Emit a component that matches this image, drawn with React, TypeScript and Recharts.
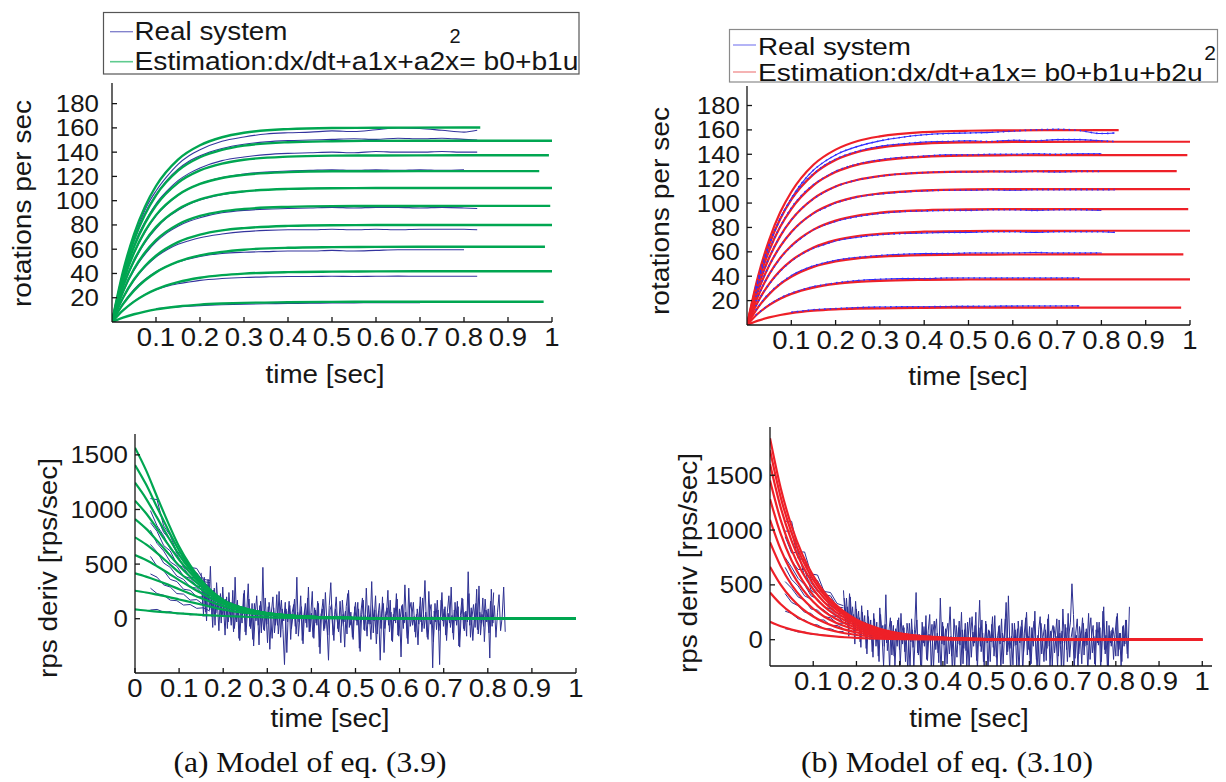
import React from 'react';
import { LineChart, Line, XAxis, YAxis } from 'recharts';

// ---------- shared axes ----------
const timeTicks = [0.1, 0.2, 0.3, 0.4, 0.5, 0.6, 0.7, 0.8, 0.9, 1];
const timeTicksZero = [0, 0.1, 0.2, 0.3, 0.4, 0.5, 0.6, 0.7, 0.8, 0.9, 1];
const rpsTicks = [20, 40, 60, 80, 100, 120, 140, 160, 180];
const derivTicks = [0, 500, 1000, 1500];

// ---------- top left: rps, model (3.9) ----------
const fitT = [0, 0.025, 0.05, 0.075, 0.1, 0.15, 0.2, 0.25, 0.3, 0.4, 0.5, 0.6, 0.8, 1];
const tlFitEnd = [0.837, 1, 0.993, 0.971, 1, 0.996, 1, 0.984, 1, 0.981];
const tlFit = [
  [0, 41.5, 72.3, 95.1, 112.1, 133.9, 145.7, 152.3, 156.0, 159.0, 159.9, 160.1, 160.3, 160.3],
  [0, 38.7, 67.4, 88.6, 104.4, 124.7, 135.8, 141.9, 145.4, 148.2, 149.0, 149.3, 149.4, 149.4],
  [0, 35.6, 62.0, 81.5, 96.0, 114.7, 124.9, 130.5, 133.7, 136.3, 137.1, 137.3, 137.4, 137.4],
  [0, 33.0, 57.1, 74.9, 88.1, 104.7, 113.8, 118.7, 121.3, 123.5, 124.2, 124.3, 124.4, 124.4],
  [0, 29.3, 50.7, 66.5, 78.2, 93.0, 101.1, 105.4, 107.7, 109.7, 110.3, 110.4, 110.5, 110.5],
  [0, 25.2, 43.7, 57.3, 67.5, 80.4, 87.4, 91.2, 93.2, 94.9, 95.5, 95.6, 95.7, 95.7],
  [0, 20.0, 35.0, 46.2, 54.6, 65.8, 72.0, 75.5, 77.4, 79.2, 79.8, 79.9, 80, 80],
  [0, 14.7, 25.9, 34.4, 40.9, 49.7, 54.9, 57.8, 59.6, 61.2, 61.7, 61.9, 62, 62],
  [0, 9.5, 16.8, 22.5, 26.9, 32.9, 36.5, 38.6, 39.9, 41.1, 41.5, 41.7, 41.8, 41.8],
  [0, 3.6, 6.4, 8.6, 10.4, 12.8, 14.3, 15.2, 15.8, 16.3, 16.6, 16.65, 16.7, 16.7],
];

const realT = [0.02, 0.04, 0.06, 0.08, 0.1, 0.125, 0.15, 0.175, 0.2, 0.25, 0.3, 0.35, 0.4, 0.45, 0.5, 0.55, 0.6, 0.65, 0.7, 0.75, 0.8, 0.83];
const tlReal = [
  [33, 58, 79, 96, 108, 120, 130, 137, 142, 149, 152.5, 155, 156, 156.5, 157.5, 157, 158.5, 160, 159.5, 158, 156.5, 158],
  [32, 57, 77, 93, 105, 117, 126, 132.5, 137, 143, 146.5, 148.5, 149.5, 150, 150.5, 151, 150.5, 151.5, 151, 151.5, 150.5, 150],
  [30, 53, 72, 86, 97.5, 108, 116.5, 122.5, 127, 133, 136, 138, 139, 139.5, 140, 139.5, 140.5, 140, 140, 140.5, 140, 140],
  [27, 48, 64, 77, 87.5, 97, 104.5, 110, 114, 119, 122, 123.5, 124.5, 125, 125.5, 125, 125.5, 125, 125.5, 125, 125.5, null],
  [23.5, 42, 56.5, 68, 77, 86, 92, 97, 100.5, 105, 107.5, 109, 109.5, 110, 110.5, 110, 110.5, 110.5, 110, 110.5, 110.5, 110.5],
  [20, 36, 48.5, 58, 66, 73.5, 79, 83, 86, 90, 92, 93, 93.5, 94, 94.5, 94, 94.5, 94.5, 94, 94.5, 94, 93.5],
  [16, 29, 39, 47, 53.5, 59.5, 64, 67, 69.5, 72.5, 74.5, 75.5, 76, 76, 76.5, 76, 76.5, 76, 76.5, 76.5, 76.5, 76],
  [12.5, 22.5, 30.5, 36.5, 41.5, 46, 49.5, 52, 54, 56.5, 57.5, 58, 58.5, 58.5, 59, 58.5, 59, 59.5, 59.5, 59.5, 59.5, null],
  [null, 14.5, 19.5, 23.5, 26.5, 29.5, 31.5, 33, 34.3, 35.8, 36.7, 37.2, 37.5, 37.5, 37.7, 37.5, 37.7, 37.8, 37.7, 37.7, 37.7, 37.7],
  [null, null, null, null, 11, 11.8, 12.5, 13, 13.5, 14.2, 14.7, 15, 15.3, 15.5, 15.7, 15.8, 15.9, 15.9, 15.9, null, null, null],
];

// ---------- top right: rps, model (3.10) ----------
const trFitEnd = [0.839, 1, 0.994, 0.97, 1, 0.996, 1, 0.985, 1, 0.98];
const trFit = [
  [0, 40.0, 69.8, 92.4, 109.1, 131.4, 143.8, 150.9, 154.7, 158.2, 159.3, 159.6, 159.8, 159.8],
  [0, 37.6, 65.7, 86.9, 102.7, 123.5, 135.3, 141.9, 145.5, 148.8, 149.8, 150.1, 150.3, 150.3],
  [0, 34.8, 60.9, 80.5, 95.1, 114.5, 125.4, 131.5, 134.8, 137.9, 138.9, 139.2, 139.3, 139.3],
  [0, 31.6, 55.1, 72.9, 86.2, 103.7, 113.6, 119.1, 122.2, 124.9, 125.8, 126.1, 126.2, 126.2],
  [0, 27.9, 48.7, 64.4, 76.2, 91.7, 100.4, 105.3, 107.9, 110.4, 111.2, 111.4, 111.5, 111.5],
  [0, 23.8, 41.6, 55.0, 65.0, 78.2, 85.6, 89.8, 92.1, 94.1, 94.8, 95.0, 95.1, 95.1],
  [0, 19.3, 33.8, 44.7, 52.8, 63.5, 69.6, 73.0, 74.8, 76.5, 77.1, 77.2, 77.3, 77.3],
  [0, 14.5, 25.3, 33.5, 39.5, 47.6, 52.1, 54.7, 56.0, 57.3, 57.7, 57.8, 57.9, 57.9],
  [0, 9.4, 16.3, 21.6, 25.5, 30.7, 33.7, 35.3, 36.2, 37.0, 37.3, 37.4, 37.4, 37.4],
  [0, 3.6, 6.2, 8.2, 9.7, 11.7, 12.8, 13.4, 13.7, 14.1, 14.2, 14.2, 14.2, 14.2],
];
const trReal = [
  [30, 55, 75, 91, 104, 117, 127, 134, 139.5, 146.5, 151, 154, 156, 157, 157.5, 158, 159, 160, 160.5, 159.5, 157, 157.5],
  [31, 56, 75, 91, 103, 115, 124, 131, 136, 142.5, 146.5, 148.5, 150, 150.5, 151, 150.5, 151.5, 151, 152, 152, 151, 150.5],
  [29, 52, 70, 84, 96, 107, 115, 121, 126, 132, 135.5, 137.5, 138.5, 139.5, 139.5, 140, 140, 140.5, 140, 140.5, 140.5, null],
  [26, 46.5, 63, 76, 86, 96, 103.5, 109, 113.5, 119, 122, 124, 125, 125.5, 125.5, 126, 125.5, 126, 125.5, 126, 126, null],
  [23, 41, 55.5, 67, 76, 85, 91.5, 96, 100, 105, 107.5, 109, 110, 110.5, 110.5, 111, 110.5, 111, 111, 111, 111, 111],
  [19.5, 35, 47, 57, 64.5, 72, 78, 82, 85, 89, 91.5, 93, 93.5, 94, 94, 94.5, 94.5, 94, 94.5, 94.5, 94, null],
  [15.5, 28.5, 38, 46, 52.5, 58.5, 63, 66, 69, 72, 74, 75, 75.5, 76, 76, 76.5, 76.5, 76, 76.5, 76.5, 76.5, 76],
  [12, 22, 29.5, 35.5, 40.5, 45, 48.5, 51, 53, 55.5, 57, 58, 58.5, 58.5, 59, 59, 59, 59.5, 59, 59, 59, null],
  [8, 14, 19, 23, 26, 29, 31.5, 33, 34.5, 36.5, 37.5, 38, 38, 38.5, 38.5, 38.5, 38.5, 38.5, 38.5, 38.5, null, null],
  [null, null, null, null, 10.5, 11.5, 12.5, 13, 13.5, 14.3, 14.7, 15, 15, 15.2, 15.3, 15.4, 15.5, 15.6, 15.6, 15.7, null, null],
];

// ---------- bottom: derivatives ----------
const derivT = [0, 0.025, 0.05, 0.075, 0.1, 0.125, 0.15, 0.2, 0.25, 0.3, 0.4, 0.5, 0.6, 0.8, 1];
const blFit = [
  [1566, 1360, 1117, 880, 660, 490, 354, 171, 92, 49, 16, 5, 2, 0, 0],
  [1407, 1230, 1020, 815, 625, 470, 345, 170, 92, 50, 16, 5, 2, 0, 0],
  [1245, 1100, 925, 750, 585, 448, 332, 168, 92, 51, 17, 6, 2, 0, 0],
  [1081, 965, 825, 680, 540, 420, 315, 164, 91, 52, 17, 6, 2, 0, 0],
  [913, 825, 715, 600, 485, 385, 295, 158, 89, 52, 18, 6, 2, 0, 0],
  [745, 680, 600, 512, 423, 343, 268, 148, 85, 50, 18, 6, 2, 0, 0],
  [583, 537, 480, 418, 353, 292, 234, 134, 79, 48, 18, 7, 3, 0, 0],
  [415, 385, 350, 312, 270, 229, 188, 113, 69, 43, 17, 7, 3, 0, 0],
  [256, 240, 220, 200, 176, 153, 130, 83, 53, 34, 14, 6, 3, 0, 0],
  [85, 75, 65, 57, 49, 42, 35, 25, 18, 12, 6, 3, 1, 0, 0],
];
const brFit = [
  [1838, 1379, 1035, 776, 583, 436, 327, 184, 104, 58, 19, 6, 2, 0, 0],
  [1728, 1296, 973, 729, 548, 410, 308, 173, 97, 55, 17, 6, 2, 0, 0],
  [1602, 1202, 902, 676, 508, 380, 285, 160, 90, 51, 16, 5, 2, 0, 0],
  [1451, 1088, 817, 612, 460, 344, 258, 145, 82, 46, 15, 5, 1, 0, 0],
  [1282, 962, 722, 541, 406, 304, 228, 128, 72, 41, 13, 4, 1, 0, 0],
  [1094, 821, 616, 462, 347, 259, 195, 109, 62, 35, 11, 4, 1, 0, 0],
  [889, 667, 501, 375, 282, 211, 158, 89, 50, 28, 9, 3, 1, 0, 0],
  [666, 500, 375, 281, 211, 158, 119, 67, 38, 21, 7, 2, 1, 0, 0],
  [430, 323, 242, 181, 136, 102, 77, 43, 24, 14, 4, 1, 0, 0, 0],
  [163, 122, 92, 69, 52, 39, 29, 16, 9, 5, 2, 1, 0, 0, 0],
];

const earlyT = [0.035, 0.05, 0.065, 0.08, 0.095, 0.11, 0.125, 0.14, 0.155, 0.17];
const blEarly = [
  [1100, 1090, 850, 760, 610, 590, 470, 460, 360, 350],
  [1040, 930, 790, 720, 600, 550, 450, 420, 340, 330],
  [990, 850, 760, 640, 590, 480, 450, 370, 350, 270],
  [880, 800, 670, 620, 500, 470, 380, 370, 290, 280],
  [810, 690, 620, 520, 480, 390, 370, 300, 290, 220],
  [680, 610, 510, 470, 390, 360, 290, 280, 220, 215],
  [570, 480, 440, 360, 340, 270, 260, 200, 200, 150],
  [410, 380, 310, 290, 230, 225, 170, 175, 130, 135],
  [280, 230, 215, 170, 165, 125, 130, 95, 100, 70],
  [80, 85, 60, 65, 45, 50, 35, 40, 25, 30],
];
const brEarly = [
  [1080, 1080, 800, 800, 600, 590, 440, 430, 330, 310],
  [990, 990, 740, 730, 550, 540, 410, 400, 300, 290],
  [940, 790, 800, 580, 520, 440, 450, 310, 290, 230],
  [860, 720, 640, 640, 450, 410, 340, 310, 240, 240],
  [750, 660, 560, 500, 400, 370, 300, 280, 220, 210],
  [660, 550, 490, 400, 370, 300, 270, 220, 210, 160],
  [530, 470, 390, 360, 280, 270, 210, 200, 150, 150],
  [420, 340, 310, 250, 240, 180, 180, 130, 130, 100],
  [260, 240, 190, 180, 140, 135, 100, 100, 75, 75],
  [100, 90, 70, 70, 50, 50, 40, 35, 30, 25],
];

// measured derivative, two overlapping runs each sampled every 3.5 ms
const noiseStep = 0.0035;
const blNoiseStart = 0.15;
const blNoise2Start = 0.15175;
const brNoiseStart = 0.17;
const brNoise2Start = 0.17175;
const blNoise = [
  420, 120, 380, 60, 310, 150, 480, 20, 260, -60, 330, 90, 210, -40, 290, 30, 180, -90, 240, 10,
  150, -120, 380, -30, 120, -200, 90, 40, 260, -150, 60, 180, -90, 140, -250, 30, 210, -60, 120, -130,
  470, -110, 60, -220, 150, 20, -180, 100, -60, 220, -140, 40, 170, -100, -420, 90, -30, 160, -190, 60,
  130, -70, 380, -160, 20, 110, -230, 70, -40, 190, -120, 30, 250, -180, 80, -60, 140, -320, 50, 180,
  -90, 20, -150, 120, 330, -40, -200, 90, 10, -120, 160, -70, 40, -260, 110, 230, -80, 60, -170, 20,
  150, -60, 90, -300, 40, 170, -110, 280, -50, 30, -190, 120, -20, 210, -140, 70, -380, 50, 140, -90,
  30, 260, -120, 60, -210, 100, -40, 180, -160, 10, 120, -90, 310, -30, -230, 80, 150, -60, 20, -170,
  90, -50, 200, -120, 40, 350, -80, -190, 60, 130, -450, 70, -30, 170, -110, 20, 240, -70, 110, -200,
  50, -40, 290, -130, 80, -20, 160, -250, 30, 190, -90, 60, -160, 430, -60, 100, -200, 20, 140, -100,
  300, -150, 40, -70, 180, -30, 90, -360, 270, -40, 120, -170, 60, 220, -110, 10, 290, -120,
];
const blNoise2 = [
  300, 40, 250, -20, 360, 80, 190, -80, 280, 50, 150, -110, 230, 20, 120, -150, 200, -30, 90, -60,
  260, -90, 40, 170, -180, 110, -40, 230, -120, 60, 320, -70, 10, -190, 140, -20, 80, -240, 160, 30,
  -100, 190, -50, 110, -280, 60, 200, -130, 40, -60, 250, -170, 90, -20, 150, -310, 70, 120, -90, 30,
  180, -140, 60, -30, 210, -200, 20, 140, -80, 290, -120, 50, -170, 100, -40, 160, -260, 30, 90, -110,
  240, -50, -380, 80, 130, -150, 40, 200, -90, 10, -220, 170, -30, 70, -140, 260, -60, 20, -190, 110,
  -20, 150, -270, 60, 190, -100, 30, -160, 120, -50, 340, -130, 80, -230, 10, 140, -90, 200, -310, 50,
  100, -60, 170, -200, 40, -20, 230, -150, 90, -350, 130, -40, 60, -180, 280, -70, 20, 150, -120, 40,
  -240, 110, -30, 190, -90, 60, -170, 250, -50, 20, -210, 140, -100, 80, -420, 170, -20, 90, -150, 60,
  210, -80, 30, -190, 150, -60, 110, -260, 40, 180, -110, 70, -30, 230, -170, 20, 130, -80, 270, -140,
  60, -40, 190, -210, 80, 20, -130, 160, -70, 240,
];
const brNoise = [
  450, 210, 380, 120, 420, 180, 300, 60, 350, 130, 260, -20, 310, 90, 220, -80, 270, 40, 180, -110,
  240, 20, 160, -150, 290, 70, 130, -60, 410, -100, 80, 200, -140, 130, -250, 60, 180, -90, 240, -40,
  110, -200, 150, 30, -260, 190, -70, 90, 430, -120, 50, -230, 160, -30, 120, -180, 80, 230, -280, 40,
  170, -90, 60, -210, 380, -40, 120, -260, 70, 150, -130, 30, -300, 190, 20, -160, 110, -50, 250, -220,
  90, -100, 160, -270, 40, 210, -60, 130, -190, 20, 360, -110, 60, -250, 170, -30, 90, -200, 140, -70,
  220, -160, 40, 130, -280, 60, -20, 190, -140, 400, -80, 30, -230, 150, -50, 100, -300, 70, 180, -120,
  40, 250, -90, 120, -220, 60, 170, -40, -270, 90, 210, -130, 30, 140, -190, 190, -60, 80, -250, 120,
  20, 190, -150, 60, -240, 280, -30, 110, -200, 50, 160, 510, 230, -170, 40, -260, 120, 10, 200, -140,
  70, -50, 240, -180, 30, 130, -220, 90, -30, 160, -280, 50, 300, -130, 170, -240, 80, -60, 110, 20,
  -150, 240, -90, 60, -200, 130, -40, 180, -170, 300,
];
const brNoise2 = [
  380, 140, 300, 30, 390, 160, 230, -40, 280, 90, 200, -70, 250, 40, 160, -130, 210, 0, 130, -160,
  190, -60, 110, -200, 230, 30, -240, 140, -30, 80, -270, 170, 20, -150, 100, -60, 200, -230, 60, 130,
  -110, 40, -290, 150, -20, 90, -250, 60, 180, -140, 20, -300, 120, -60, 220, -190, 50, -30, 140, -260,
  80, 190, -120, 30, -280, 160, -50, 100, -220, 60, 300, -150, 20, -270, 130, -40, 170, -300, 90, -80,
  150, -240, 40, 200, -160, 70, -30, 250, -280, 110, -60, 180, -200, 30, 140, -300, 80, -20, 210, -150,
  50, -260, 120, -40, 190, -220, 60, 340, -110, 20, -290, 150, -60, 90, -240, 170, -30, 120, -300, 60,
  200, -140, 30, -230, 110, -60, 260, -180, 40, -300, 150, 20, -200, 90, -80, 230, -270, 60, 130, -120,
  30, -250, 180, -40, 80, -300, 140, -90, 240, -160, 20, 110, -280, 60, 190, -130, 40, -220, 150, -60,
  100, -300, 70, 200, -120, 30, -240, 160, -50, 110, -200, 260, -90, 40, -270, 130, -30, 90, -180, 50,
  210, -150, 60, -240, 120, -60, 180, -130,
];

// ---------- helpers ----------
type Pt = { t: number; v: number };
type Series = { pts: Pt[]; color: string; width: number; curve: 'monotone' | 'linear'; dash?: string };

function gridSeries(times: number[], vals: (number | null)[], end = 2): Pt[] {
  const pts: Pt[] = [];
  times.forEach((t, i) => {
    const v = vals[i];
    if (v !== null && v !== undefined && t <= end) pts.push({ t, v });
  });
  if (pts.length && end < times[times.length - 1]) pts.push({ t: end, v: pts[pts.length - 1].v });
  return pts;
}
function sampled(start: number, step: number, vals: number[]): Pt[] {
  return vals.map((v, i) => ({ t: start + i * step, v }));
}

const navy = '#2e3192';
const brightBlue = '#2a2aff';
const green = '#00a651';
const red = '#ee2028';

const tlSeries: Series[] = [
  ...tlReal.map((r) => ({ pts: gridSeries(realT, r), color: '#34349e', width: 1.1, curve: 'monotone' as const })),
  ...tlFit.map((f, i) => ({ pts: gridSeries(fitT, f, tlFitEnd[i]), color: green, width: 2.4, curve: 'monotone' as const })),
];
const trSeries: Series[] = [
  ...trReal.map((r) => ({ pts: gridSeries(realT, r), color: brightBlue, width: 1.1, curve: 'monotone' as const })),
  ...trFit.map((f, i) => ({ pts: gridSeries(fitT, f, trFitEnd[i]), color: red, width: 2.2, curve: 'monotone' as const })),
  ...trReal.map((r) => ({ pts: gridSeries(realT, r), color: '#3030ff', width: 1.6, curve: 'monotone' as const, dash: '1.5 4' })),
];
const blSeries: Series[] = [
  ...blEarly.map((e) => ({ pts: gridSeries(earlyT, e), color: navy, width: 1, curve: 'linear' as const })),
  { pts: sampled(blNoiseStart, noiseStep, blNoise), color: navy, width: 1, curve: 'linear' },
  { pts: sampled(blNoise2Start, noiseStep, blNoise2), color: navy, width: 1, curve: 'linear' },
  ...blFit.map((f) => ({ pts: gridSeries(derivT, f), color: green, width: 2.2, curve: 'monotone' as const })),
];
const brSeries: Series[] = [
  ...brEarly.map((e) => ({ pts: gridSeries(earlyT, e), color: navy, width: 1, curve: 'linear' as const })),
  { pts: sampled(brNoiseStart, noiseStep, brNoise), color: navy, width: 1, curve: 'linear' },
  { pts: sampled(brNoise2Start, noiseStep, brNoise2), color: navy, width: 1, curve: 'linear' },
  ...brFit.map((f) => ({ pts: gridSeries(derivT, f, 1.005), color: red, width: 2.2, curve: 'monotone' as const })),
];

// ---------- drawing ----------
const sans = '"Liberation Sans", Arial, Helvetica, sans-serif';
const serif = '"Liberation Serif", "Times New Roman", serif';
const charW: Record<string, number> = { '.': 0.278 };
const textW = (s: string, fs: number) => s.split('').reduce((a, c) => a + (charW[c] ?? 0.556), 0) * fs;

const XTick = (props: any) => {
  const { x, y, payload } = props;
  const label = String(payload.value);
  return (
    <text x={x} y={y + 18} textAnchor="middle" fontSize={25} fontFamily={sans} fill="#161616"
      textLength={textW(label, 25) * 1.1} lengthAdjust="spacingAndGlyphs">
      {label}
    </text>
  );
};
const YTick = (props: any) => {
  const { x, y, payload } = props;
  const label = String(payload.value);
  return (
    <text x={x} y={y + 8.5} textAnchor="end" fontSize={23.5} fontFamily={sans} fill="#161616"
      textLength={textW(label, 23.5) * 1.1} lengthAdjust="spacingAndGlyphs">
      {label}
    </text>
  );
};

type PanelProps = {
  left: number; top: number; w: number; h: number;
  xDomain: [number, number]; yDomain: [number, number];
  xTicks: number[]; yTicks: number[]; yGap: number;
  frame2: string; series: Series[];
};

function Panel({ left, top, w, h, xDomain, yDomain, xTicks, yTicks, yGap, frame2, series }: PanelProps) {
  const yw = 80, mt = 10, mr = 10, xh = 40;
  const frame = { stroke: '#151515', strokeWidth: 1.3 };
  const frameB = { stroke: frame2, strokeWidth: 1.2 };
  return (
    <div style={{ position: 'absolute', left: left - yw, top: top - mt }}>
      <LineChart width={w + yw + mr} height={h + mt + xh} margin={{ top: mt, right: mr, bottom: 0, left: 0 }}>
        <XAxis xAxisId="b" type="number" dataKey="t" domain={xDomain} ticks={xTicks} interval={0}
          allowDataOverflow height={xh} tickSize={-5} tickMargin={11}
          tick={(p: any) => <XTick {...p} />} axisLine={frame} tickLine={frame} />
        <XAxis xAxisId="t" orientation="top" type="number" dataKey="t" domain={xDomain} ticks={xTicks}
          interval={0} allowDataOverflow height={0} tickSize={-5} tick={false} axisLine={frameB} tickLine={frameB} />
        <YAxis yAxisId="l" type="number" domain={yDomain} ticks={yTicks} interval={0} allowDataOverflow
          width={yw} tickSize={-5} tickMargin={yGap} tick={(p: any) => <YTick {...p} />}
          axisLine={frame} tickLine={frame} />
        <YAxis yAxisId="r" orientation="right" type="number" domain={yDomain} ticks={yTicks} interval={0}
          allowDataOverflow width={0} tickSize={-5} tick={false} axisLine={frameB} tickLine={frameB} />
        {series.map((s, i) => (
          <Line key={i} xAxisId="b" yAxisId="l" data={s.pts} dataKey="v" type={s.curve}
            stroke={s.color} strokeWidth={s.width} strokeDasharray={s.dash} dot={false} activeDot={false}
            isAnimationActive={false} />
        ))}
      </LineChart>
    </div>
  );
}

function VLabel({ x, y, len, text }: { x: number; y: number; len: number; text: string }) {
  return (
    <text transform={`translate(${x},${y}) rotate(-90)`} textAnchor="middle" dy="0.27em"
      fontSize={25} fontFamily={sans} fill="#161616" textLength={len} lengthAdjust="spacingAndGlyphs">
      {text}
    </text>
  );
}
function HLabel({ x, y, len, text }: { x: number; y: number; len: number; text: string }) {
  return (
    <text x={x} y={y} textAnchor="middle" fontSize={25} fontFamily={sans} fill="#161616"
      textLength={len} lengthAdjust="spacingAndGlyphs">
      {text}
    </text>
  );
}

export default function App() {
  return (
    <div style={{ position: 'absolute', left: 0, top: 0, width: 1226, height: 782, background: '#fff', overflow: 'hidden' }}>
      <Panel left={112} top={83} w={440} h={239} xDomain={[0, 1]} yDomain={[0, 197]}
        xTicks={timeTicks} yTicks={rpsTicks} yGap={18} frame2="#151515" series={tlSeries} />
      <Panel left={747} top={86} w={443} h={239} xDomain={[0, 1]} yDomain={[0, 196]}
        xTicks={timeTicks} yTicks={rpsTicks} yGap={12} frame2="#9a9a9a" series={trSeries} />
      <Panel left={135} top={434} w={441} h={239} xDomain={[0, 1]} yDomain={[-497, 1691]}
        xTicks={timeTicksZero} yTicks={derivTicks} yGap={12} frame2="#151515" series={blSeries} />
      <Panel left={770} top={427} w={442} h={239} xDomain={[0, 1.0225]} yDomain={[-240, 1940]}
        xTicks={timeTicks} yTicks={derivTicks} yGap={12} frame2="#151515" series={brSeries} />

      <svg width={1226} height={782} style={{ position: 'absolute', left: 0, top: 0, pointerEvents: 'none' }}>
        {/* legend, model (3.9) */}
        <rect x={103.5} y={12.5} width={475.5} height={61.5} fill="#fff" stroke="#555" strokeWidth={1.2} />
        <line x1={110} y1={31.7} x2={133} y2={31.7} stroke="#7d7dca" strokeWidth={1.3} />
        <line x1={110} y1={61.7} x2={133} y2={61.7} stroke="#5fcb8f" strokeWidth={1.6} />
        <text x={134.5} y={39.5} fontSize={25} fontFamily={sans} fill="#161616" textLength={153} lengthAdjust="spacingAndGlyphs">Real system</text>
        <text x={134.5} y={70} fontSize={25} fontFamily={sans} fill="#161616" textLength={444} lengthAdjust="spacingAndGlyphs">Estimation:dx/dt+a1x+a2x= b0+b1u</text>
        <text x={455} y={43} textAnchor="middle" fontSize={20} fontFamily={sans} fill="#161616">2</text>

        {/* legend, model (3.10) */}
        <rect x={729.5} y={29.5} width={488} height={52.5} fill="#fff" stroke="#8a8a8a" strokeWidth={1.2} />
        <line x1={733} y1={45} x2={756} y2={45} stroke="#8c8cf2" strokeWidth={1.3} />
        <line x1={733} y1={72} x2={756} y2={72} stroke="#f08a8a" strokeWidth={1.3} />
        <text x={758} y={54.5} fontSize={23} fontFamily={sans} fill="#111" textLength={153} lengthAdjust="spacingAndGlyphs">Real system</text>
        <text x={758} y={80.5} fontSize={23} fontFamily={sans} fill="#111" textLength={444.6} lengthAdjust="spacingAndGlyphs">Estimation:dx/dt+a1x= b0+b1u+b2u</text>
        <text x={1210} y={60} textAnchor="middle" fontSize={21} fontFamily={sans} fill="#111">2</text>

        {/* axis titles */}
        <VLabel x={24} y={203.5} len={207} text="rotations per sec" />
        <VLabel x={662} y={211} len={208} text="rotations per sec" />
        <VLabel x={50} y={568} len={220} text="rps deriv [rps/sec]" />
        <VLabel x={690} y={563} len={220} text="rps deriv [rps/sec]" />
        <HLabel x={325} y={383} len={119} text="time [sec]" />
        <HLabel x={968} y={385} len={119.5} text="time [sec]" />
        <HLabel x={330} y={726.5} len={119} text="time [sec]" />
        <HLabel x={969} y={726.5} len={119.5} text="time [sec]" />

        {/* captions */}
        <text x={310} y={772} textAnchor="middle" fontSize={30} fontFamily={serif} fill="#111" textLength={273} lengthAdjust="spacingAndGlyphs">(a) Model of eq. (3.9)</text>
        <text x={947} y={772} textAnchor="middle" fontSize={30} fontFamily={serif} fill="#111" textLength={292} lengthAdjust="spacingAndGlyphs">(b) Model of eq. (3.10)</text>
      </svg>
    </div>
  );
}
